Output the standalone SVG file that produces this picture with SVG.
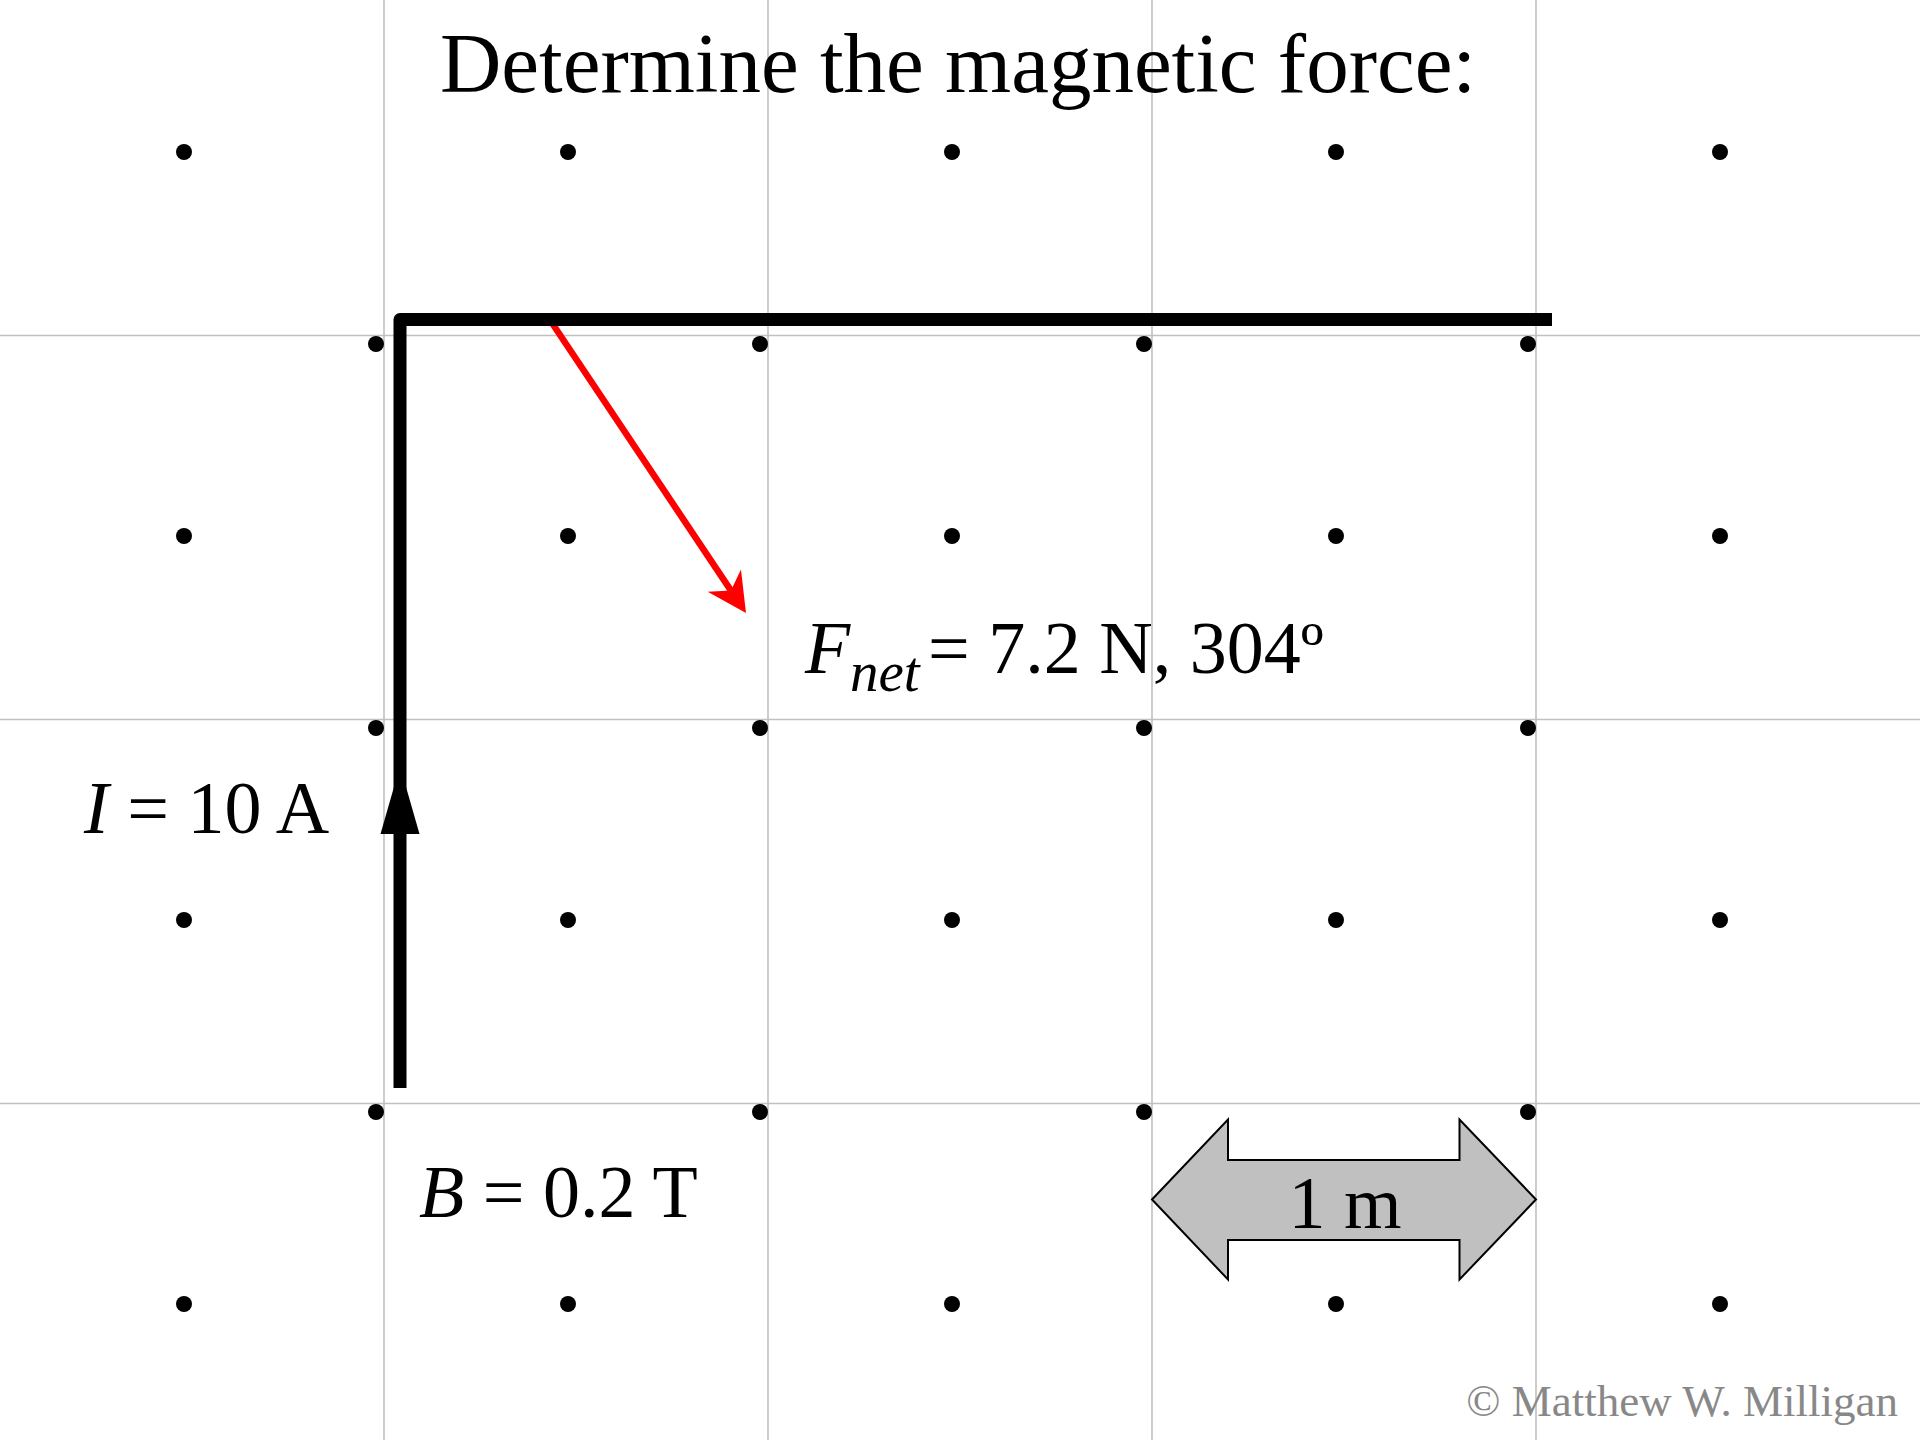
<svg xmlns="http://www.w3.org/2000/svg" width="1920" height="1440" viewBox="0 0 1920 1440">
  <style>
    .grid { stroke: #c0c0c0; stroke-width: 1.6; fill: none; }
    .dot { fill: #000; }
    .t { font-family: "Liberation Serif", "Times New Roman", serif; fill: #000; }
    .it { font-style: italic; }
    .wire { stroke: #000; stroke-width: 13; fill: none; stroke-linejoin: round; stroke-linecap: butt; }
    .force { stroke: #ff0000; stroke-width: 6.5; fill: none; }
  </style>
  <defs>
    <marker id="redHead" viewBox="-15 -22 45 44" markerWidth="45" markerHeight="44" refX="0" refY="0" orient="auto" markerUnits="userSpaceOnUse" overflow="visible">
      <path d="M 27 0 L -12 -20 L 0 0 L -12 20 Z" fill="#ff0000"/>
    </marker>
    <circle id="d" r="8"/>
  </defs>
  <rect width="1920" height="1440" fill="#fff"/>

  <g id="grid" class="grid">
    <line x1="384" y1="0" x2="384" y2="1440"/>
    <line x1="768" y1="0" x2="768" y2="1440"/>
    <line x1="1152" y1="0" x2="1152" y2="1440"/>
    <line x1="1536" y1="0" x2="1536" y2="1440"/>
    <line x1="0" y1="335.5" x2="1920" y2="335.5"/>
    <line x1="0" y1="719.5" x2="1920" y2="719.5"/>
    <line x1="0" y1="1103.5" x2="1920" y2="1103.5"/>
  </g>

  <g id="field-dots" class="dot">
    <use href="#d" x="184" y="152"/><use href="#d" x="568" y="152"/><use href="#d" x="952" y="152"/><use href="#d" x="1336" y="152"/><use href="#d" x="1720" y="152"/>
    <use href="#d" x="376" y="344"/><use href="#d" x="760" y="344"/><use href="#d" x="1144" y="344"/><use href="#d" x="1528" y="344"/>
    <use href="#d" x="184" y="536"/><use href="#d" x="568" y="536"/><use href="#d" x="952" y="536"/><use href="#d" x="1336" y="536"/><use href="#d" x="1720" y="536"/>
    <use href="#d" x="376" y="728"/><use href="#d" x="760" y="728"/><use href="#d" x="1144" y="728"/><use href="#d" x="1528" y="728"/>
    <use href="#d" x="184" y="920"/><use href="#d" x="568" y="920"/><use href="#d" x="952" y="920"/><use href="#d" x="1336" y="920"/><use href="#d" x="1720" y="920"/>
    <use href="#d" x="376" y="1112"/><use href="#d" x="760" y="1112"/><use href="#d" x="1144" y="1112"/><use href="#d" x="1528" y="1112"/>
    <use href="#d" x="184" y="1304"/><use href="#d" x="568" y="1304"/><use href="#d" x="952" y="1304"/><use href="#d" x="1336" y="1304"/><use href="#d" x="1720" y="1304"/>
  </g>

  <g id="title">
    <text class="t" x="958" y="92" font-size="85" text-anchor="middle">Determine the magnetic force:</text>
  </g>

  <g id="force-vector">
    <line class="force" x1="550" y1="320" x2="731" y2="590.6" marker-end="url(#redHead)"/>
  </g>

  <g id="wire">
    <path class="wire" d="M 400 1088 L 400 319.5 L 1552 319.5"/>
    <polygon points="400,766 380.5,834 419.5,834" fill="#000"/>
  </g>

  <g id="label-current">
    <text class="t" x="84" y="833" font-size="74"><tspan class="it">I</tspan> = 10 A</text>
  </g>

  <g id="label-force">
    <text class="t" y="673" font-size="74"><tspan class="it" x="805">F</tspan><tspan class="it" x="850" y="691" font-size="57">net</tspan><tspan x="928" y="673">= 7.2 N, 304º</tspan></text>
  </g>

  <g id="label-field">
    <text class="t" x="419" y="1217" font-size="74"><tspan class="it">B</tspan> = 0.2 T</text>
  </g>

  <g id="scale-arrow">
    <polygon points="1152,1199.5 1228,1119.5 1228,1160 1459.5,1160 1459.5,1119.5 1536,1199.5 1459.5,1279.5 1459.5,1240 1228,1240 1228,1279.5" fill="#c0c0c0" stroke="#000" stroke-width="2" stroke-linejoin="miter"/>
    <text class="t" x="1345" y="1228" font-size="74" text-anchor="middle">1 m</text>
  </g>

  <g id="copyright">
    <text class="t" x="1898" y="1416" font-size="45" text-anchor="end" style="fill:#888888">© Matthew W. Milligan</text>
  </g>
</svg>
